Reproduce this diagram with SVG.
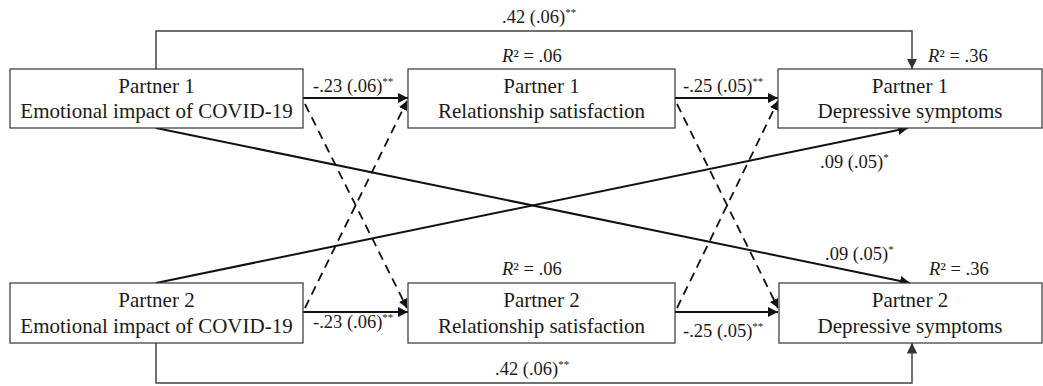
<svg xmlns="http://www.w3.org/2000/svg" width="1043" height="386" viewBox="0 0 1043 386">
<style>
.box{fill:#fff;stroke:#333;stroke-width:1.2}
text{font-family:'Liberation Serif','Times New Roman','DejaVu Serif',serif;fill:#1a1a1a}
.t{font-size:21px;text-anchor:middle}
.l{font-size:18.5px}
.s{font-size:11px}
.sol{fill:none;stroke:#111;stroke-width:2}
.frm{fill:none;stroke:#444;stroke-width:1.5}
.dash{fill:none;stroke:#111;stroke-width:1.8;stroke-dasharray:9,6}
</style>
<defs>
<marker id="ah" viewBox="0 0 10 10" refX="10" refY="5" markerWidth="5" markerHeight="5" orient="auto" markerUnits="strokeWidth">
<path d="M0,0 L10,5 L0,10 z" fill="#111"/>
</marker>
<marker id="ah2" viewBox="0 0 10 10" refX="10" refY="5" markerWidth="7" markerHeight="7" orient="auto" markerUnits="strokeWidth">
<path d="M0,0 L10,5 L0,10 z" fill="#333"/>
</marker>
</defs>
<g id="connectors">
<path class="frm" d="M156,69 V31 H912 V69" marker-end="url(#ah2)"/>
<path class="frm" d="M156,343 V383 H912 V343" marker-end="url(#ah2)"/>
<line class="sol" x1="303" y1="98" x2="408" y2="98" marker-end="url(#ah)"/>
<line class="sol" x1="303" y1="312" x2="408" y2="312" marker-end="url(#ah)"/>
<line class="sol" x1="675" y1="98" x2="778" y2="98" marker-end="url(#ah)"/>
<line class="sol" x1="675" y1="312" x2="778" y2="312" marker-end="url(#ah)"/>
<line class="dash" x1="305" y1="104" x2="407" y2="308" marker-end="url(#ah)"/>
<line class="dash" x1="305" y1="308" x2="407" y2="101" marker-end="url(#ah)"/>
<line class="dash" x1="677" y1="104" x2="778" y2="308" marker-end="url(#ah)"/>
<line class="dash" x1="677" y1="308" x2="778" y2="101" marker-end="url(#ah)"/>
<line class="sol" x1="156" y1="128" x2="910" y2="283" marker-end="url(#ah)"/>
<line class="sol" x1="156" y1="283" x2="908" y2="128" marker-end="url(#ah)"/>
</g>
<g id="p1emo"><rect class="box" x="10" y="69" width="293" height="59"/><text class="t" x="156.5" y="93">Partner 1</text><text class="t" x="156.5" y="118">Emotional impact of COVID-19</text></g>
<g id="p1rel"><rect class="box" x="408" y="69" width="267" height="59"/><text class="t" x="541.5" y="93">Partner 1</text><text class="t" x="541.5" y="118">Relationship satisfaction</text></g>
<g id="p1dep"><rect class="box" x="778" y="69" width="264" height="59"/><text class="t" x="910" y="93">Partner 1</text><text class="t" x="910" y="118">Depressive symptoms</text></g>
<g id="p2emo"><rect class="box" x="10" y="283" width="293" height="60"/><text class="t" x="156.5" y="307">Partner 2</text><text class="t" x="156.5" y="333">Emotional impact of COVID-19</text></g>
<g id="p2rel"><rect class="box" x="408" y="283" width="267" height="60"/><text class="t" x="541.5" y="307">Partner 2</text><text class="t" x="541.5" y="333">Relationship satisfaction</text></g>
<g id="p2dep"><rect class="box" x="779" y="283" width="263" height="60"/><text class="t" x="910" y="307">Partner 2</text><text class="t" x="910" y="333">Depressive symptoms</text></g>
<g id="labels">
<text class="l" x="502" y="23">.42 (.06)<tspan class="s" dy="-7">**</tspan></text>
<text class="l" x="495" y="375">.42 (.06)<tspan class="s" dy="-7">**</tspan></text>
<text class="l" x="313" y="92">-.23 (.06)<tspan class="s" dy="-7">**</tspan></text>
<text class="l" x="313" y="328">-.23 (.06)<tspan class="s" dy="-7">**</tspan></text>
<text class="l" x="683" y="92">-.25 (.05)<tspan class="s" dy="-7">**</tspan></text>
<text class="l" x="683" y="337">-.25 (.05)<tspan class="s" dy="-7">**</tspan></text>
<text class="l" x="820" y="168">.09 (.05)<tspan class="s" dy="-7">*</tspan></text>
<text class="l" x="825" y="260">.09 (.05)<tspan class="s" dy="-7">*</tspan></text>
<text class="l" x="502" y="62"><tspan font-style="italic">R</tspan>² = .06</text>
<text class="l" x="502" y="275"><tspan font-style="italic">R</tspan>² = .06</text>
<text class="l" x="928" y="62"><tspan font-style="italic">R</tspan>² = .36</text>
<text class="l" x="929" y="275"><tspan font-style="italic">R</tspan>² = .36</text>
</g>
</svg>
